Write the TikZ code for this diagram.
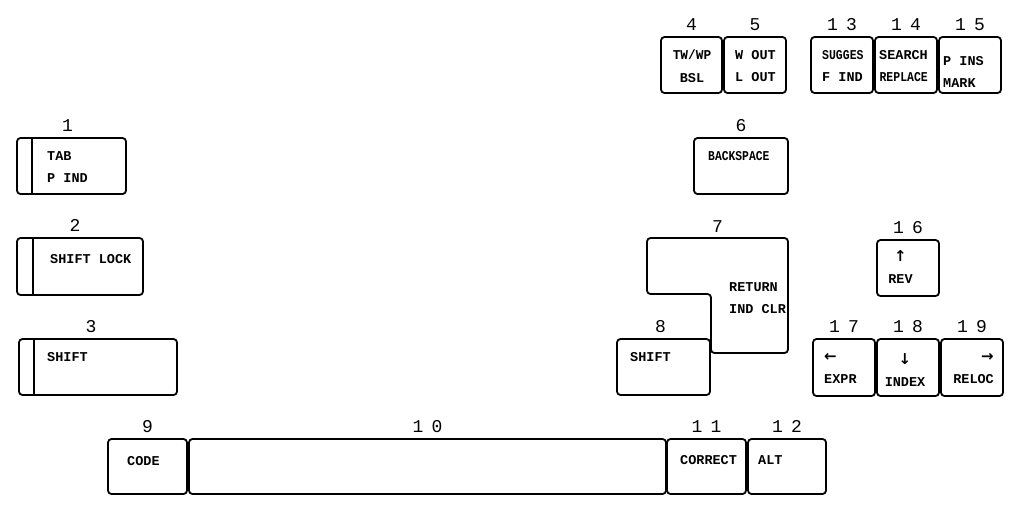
\documentclass[tikz,border=0pt]{standalone}
\usepackage{fontspec}
\usepackage{graphicx}
\usetikzlibrary{positioning}
\newfontfamily\labfont{Liberation Mono}
\newfontfamily\numfont[LetterSpace=45]{Liberation Mono}
\newfontfamily\arrfont{DejaVu Sans}
\newcommand\narrowtext[2]{\scalebox{#1}[1]{#2}}
\newcommand\arr[1]{{\arrfont\bfseries\fontsize{15}{15}\selectfont #1}}
\begin{document}
\begin{tikzpicture}[x=1pt,y=-1pt,
    keycap/.style={draw, line width=1.8pt, rounded corners=3.5pt, inner sep=0pt},
    keytext/.style={font=\labfont\bfseries\fontsize{13.5}{22.5}\selectfont, inner sep=0pt, align=left, anchor=north west},
    keynum/.style={font=\numfont\fontsize{18}{18}\selectfont, inner sep=0pt},
    keyline/.style={line width=1.6pt}]
\useasboundingbox (0,0) rectangle (1024,515);

% left block
\node[keycap, minimum width=109pt, minimum height=56pt] (k1) at (71.5,166) {};
\node[keycap, minimum width=126pt, minimum height=57pt] (k2) at (80,266.5) {};
\node[keycap, minimum width=158pt, minimum height=56pt] (k3) at (98,367) {};
\draw[keyline] ([xshift=16pt]k1.north west) -- ([xshift=16pt]k1.south west);
\draw[keyline] ([xshift=17pt]k2.north west) -- ([xshift=17pt]k2.south west);
\draw[keyline] ([xshift=16pt]k3.north west) -- ([xshift=16pt]k3.south west);
\node[keytext] (l1) at (47,151) {TAB\\P IND};
\node[keytext] (l2) at (50,254) {SHIFT LOCK};
\node[keytext] (l3) at (47,352) {SHIFT};
\node[keynum, above=5pt of k1, xshift=-4pt] (n1) {1};
\node[keynum, above=5pt of k2, xshift=-5pt] (n2) {2};
\node[keynum, above=5pt of k3, xshift=-7pt] (n3) {3};

% top row
\node[keycap, minimum width=61pt, minimum height=56pt] (k4) at (691.5,65) {};
\node[keycap, minimum width=62pt, minimum height=56pt] (k5) at (755,65) {};
\node[keycap, minimum width=62pt, minimum height=56pt] (k13) at (842,65) {};
\node[keycap, minimum width=62pt, minimum height=56pt] (k14) at (906,65) {};
\node[keycap, minimum width=62pt, minimum height=56pt] (k15) at (970,65) {};
\node[keytext, align=center, anchor=north] (l4) at (692,50) {\narrowtext{0.95}{TW/WP}\\BSL};
\node[keytext] (l5) at (735,50) {W OUT\\L OUT};
\node[keytext] (l13) at (822,50) {\narrowtext{0.85}{SUGGES}\\F IND};
\node[keytext, align=right, anchor=north east] (l14) at (928,50) {SEARCH\\\narrowtext{0.85}{REPLACE}};
\node[keytext] (l15) at (943,56) {P INS\\MARK};
\foreach \k in {4,5,13,14,15}
  \node[keynum, above=5pt of k\k] (n\k) {\k};

% right block
\node[keycap, minimum width=94pt, minimum height=56pt] (k6) at (741,166) {};
\draw[line width=1.8pt, rounded corners=3.5pt] (647,238) -- (788,238) -- (788,353) -- (711,353) -- (711,294) -- (647,294) -- cycle;
\coordinate (k7) at (717.5,238);
\node[keycap, minimum width=93pt, minimum height=56pt] (k8) at (663.5,367) {};
\node[keytext] (l6) at (708,151) {\narrowtext{0.84}{BACKSPACE}};
\node[keytext] (l7) at (729,282) {RETURN\\IND CLR};
\node[keytext] (l8) at (630,352) {SHIFT};
\node[keynum, above=5pt of k6] (n6) {6};
\node[keynum, above=5pt of k7] (n7) {7};
\node[keynum, above=5pt of k8, xshift=-3pt] (n8) {8};

% cursor keys
\node[keycap, minimum width=62pt, minimum height=56pt] (k16) at (908,268) {};
\node[keycap, minimum width=62pt, minimum height=57pt] (k17) at (844,367.5) {};
\node[keycap, minimum width=62pt, minimum height=57pt] (k18) at (908,367.5) {};
\node[keycap, minimum width=62pt, minimum height=57pt] (k19) at (972,367.5) {};
\node[keytext, align=center, anchor=north] (l16) at (900.5,250) {\arr{↑}\\REV};
\node[keytext] (l17) at (824,353) {\arr{←}\\EXPR};
\node[keytext, align=center, anchor=north] (l18) at (905,353) {\arr{↓}\\INDEX};
\node[keytext, align=right, anchor=north east] (l19) at (994,353) {\arr{→}\\RELOC};
\foreach \k in {16,17,18,19}
  \node[keynum, above=5pt of k\k] (n\k) {\k};

% bottom row
\node[keycap, minimum width=79pt, minimum height=55pt] (k9) at (147.5,466.5) {};
\node[keycap, minimum width=477pt, minimum height=55pt] (k10) at (427.5,466.5) {};
\node[keycap, minimum width=79pt, minimum height=55pt] (k11) at (706.5,466.5) {};
\node[keycap, minimum width=78pt, minimum height=55pt] (k12) at (787,466.5) {};
\node[keytext] (l9) at (127,456) {CODE};
\node[keytext] (l11) at (680,455) {CORRECT};
\node[keytext] (l12) at (758,455) {ALT};
\foreach \k in {9,10,11,12}
  \node[keynum, above=5pt of k\k] (n\k) {\k};
\end{tikzpicture}
\end{document}
